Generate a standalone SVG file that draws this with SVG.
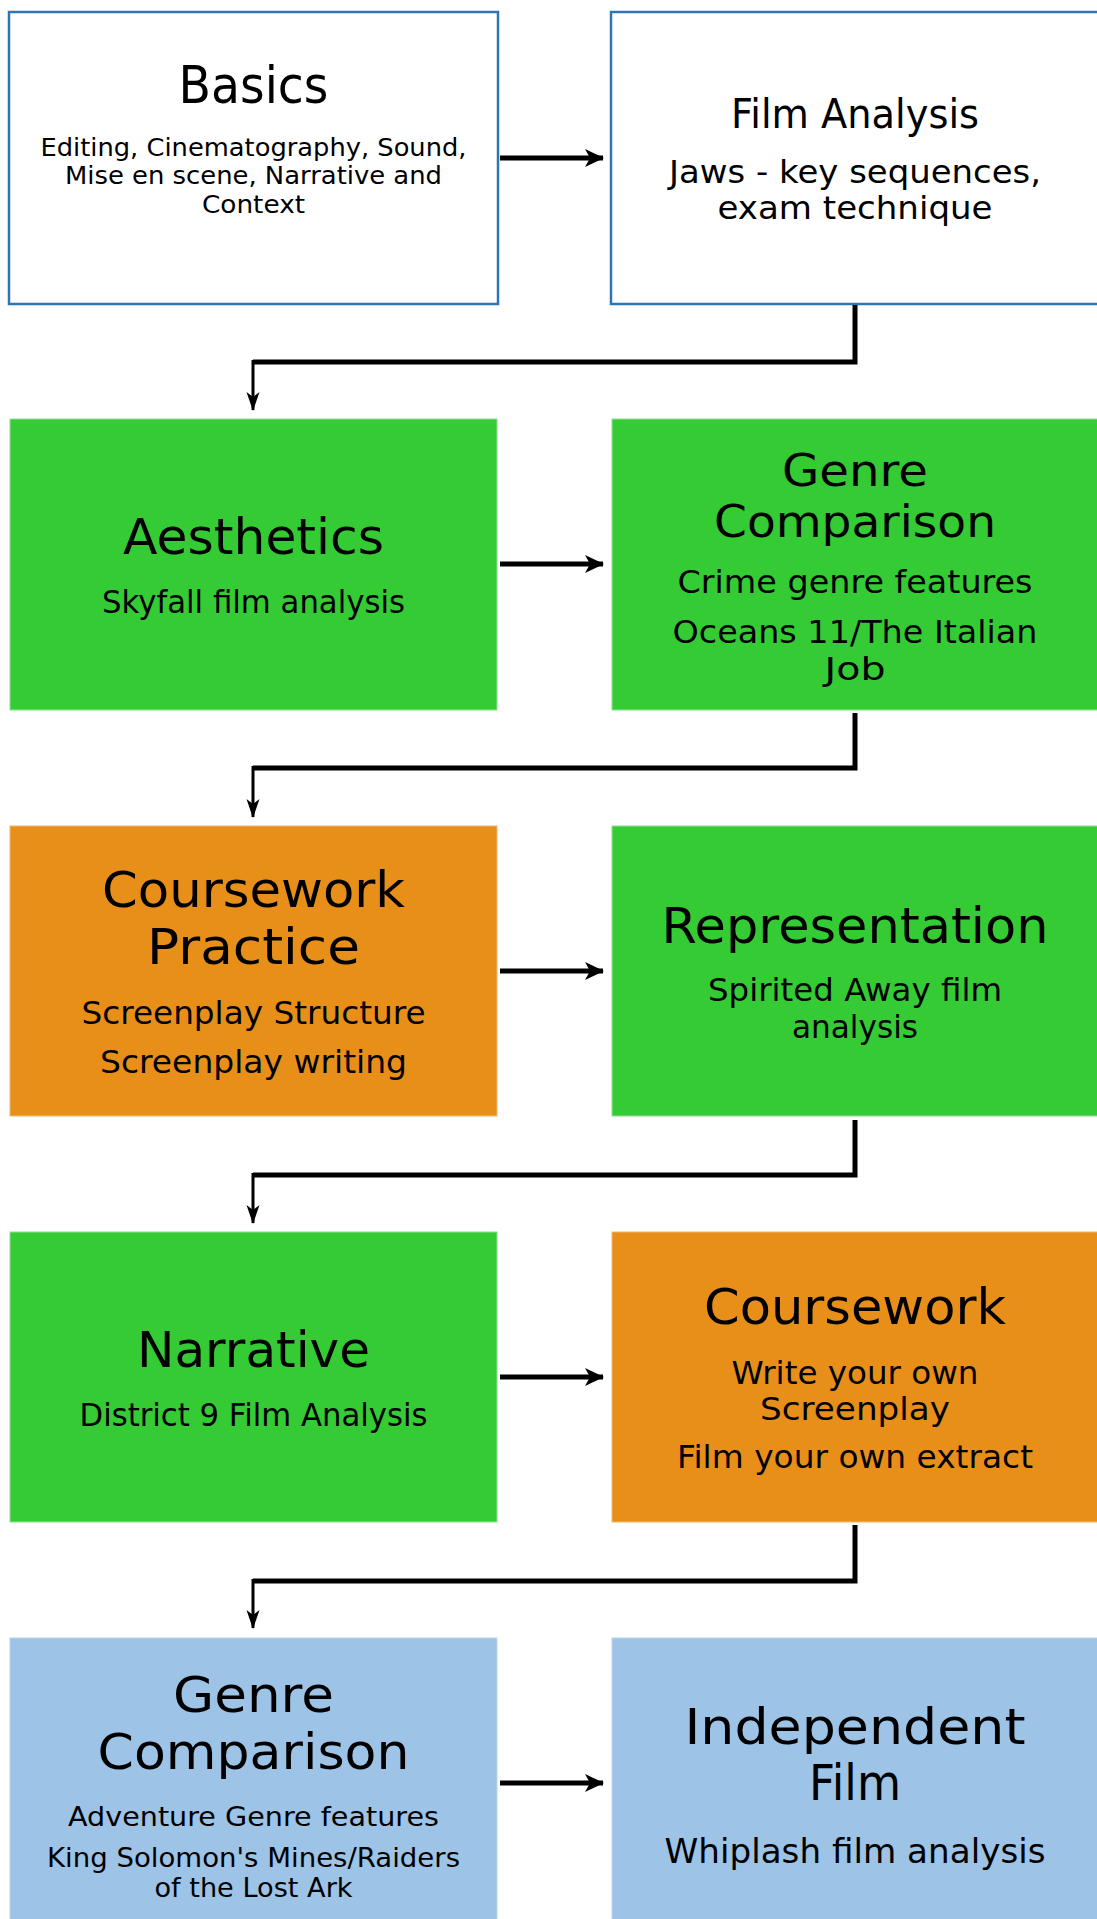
<svg xmlns="http://www.w3.org/2000/svg" width="1097" height="1919" viewBox="0 0 1097 1919">
<style>
  text { font-family: "DejaVu Sans", "Liberation Sans", sans-serif; fill: #000; text-anchor: middle; }
  .white { fill: #ffffff; stroke: #2E75B6; stroke-width: 2.5; }
  .green { fill: #34CB34; stroke: #8FE08F; stroke-width: 1; }
  .orange { fill: #E88F1A; stroke: #F0B870; stroke-width: 1; }
  .blue { fill: #9DC3E6; stroke: #B8D4EE; stroke-width: 1; }
  .conn { fill: none; stroke: #000; stroke-width: 5; stroke-linejoin: miter; }
  .drop { fill: none; stroke: #000; stroke-width: 3; }
  .harrow { fill: none; stroke: #000; stroke-width: 5; }
</style>
<defs>
  <marker id="ah" markerWidth="20" markerHeight="20" refX="18" refY="10" orient="auto" markerUnits="userSpaceOnUse">
    <path d="M0,1 L19,10 L0,19 L5,10 Z" fill="#000"/>
  </marker>
  <marker id="ahd" markerWidth="20" markerHeight="14" refX="18" refY="7" orient="auto" markerUnits="userSpaceOnUse">
    <path d="M0,0.5 L19,7 L0,13.5 L5,7 Z" fill="#000"/>
  </marker>
</defs>

<g id="basics">
  <rect class="white" x="9" y="12" width="489" height="292"/>
  <text x="253.5" y="103" font-size="52" textLength="150" lengthAdjust="spacingAndGlyphs">Basics</text>
  <text x="253.5" y="156" font-size="25" textLength="426" lengthAdjust="spacingAndGlyphs">Editing, Cinematography, Sound,</text>
  <text x="253.5" y="184" font-size="25" textLength="377" lengthAdjust="spacingAndGlyphs">Mise en scene, Narrative and</text>
  <text x="253.5" y="213" font-size="25" textLength="103" lengthAdjust="spacingAndGlyphs">Context</text>
</g>

<g id="film-analysis">
  <rect class="white" x="611" y="12" width="490" height="292"/>
  <text x="855" y="128" font-size="41" textLength="248" lengthAdjust="spacingAndGlyphs">Film Analysis</text>
  <text x="855" y="183" font-size="32" textLength="372" lengthAdjust="spacingAndGlyphs">Jaws - key sequences,</text>
  <text x="855" y="219" font-size="32" textLength="275" lengthAdjust="spacingAndGlyphs">exam technique</text>
</g>

<g id="aesthetics">
  <rect class="green" x="10" y="419" width="487" height="291"/>
  <text x="253.5" y="554" font-size="50" textLength="261" lengthAdjust="spacingAndGlyphs">Aesthetics</text>
  <text x="253.5" y="613" font-size="32" textLength="303" lengthAdjust="spacingAndGlyphs">Skyfall film analysis</text>
</g>

<g id="genre-comparison-crime">
  <rect class="green" x="612" y="419" width="490" height="291"/>
  <text x="855" y="486" font-size="45" textLength="146" lengthAdjust="spacingAndGlyphs">Genre</text>
  <text x="855" y="537" font-size="45" textLength="282" lengthAdjust="spacingAndGlyphs">Comparison</text>
  <text x="855" y="593" font-size="32" textLength="355" lengthAdjust="spacingAndGlyphs">Crime genre features</text>
  <text x="855" y="643" font-size="32" textLength="365" lengthAdjust="spacingAndGlyphs">Oceans 11/The Italian</text>
  <text x="855" y="680" font-size="32" textLength="61" lengthAdjust="spacingAndGlyphs">Job</text>
</g>

<g id="coursework-practice">
  <rect class="orange" x="10" y="826" width="487" height="290"/>
  <text x="253.5" y="907" font-size="50" textLength="303" lengthAdjust="spacingAndGlyphs">Coursework</text>
  <text x="253.5" y="964" font-size="50" textLength="213" lengthAdjust="spacingAndGlyphs">Practice</text>
  <text x="253.5" y="1024" font-size="32" textLength="344" lengthAdjust="spacingAndGlyphs">Screenplay Structure</text>
  <text x="253.5" y="1073" font-size="32" textLength="307" lengthAdjust="spacingAndGlyphs">Screenplay writing</text>
</g>

<g id="representation">
  <rect class="green" x="612" y="826" width="490" height="290"/>
  <text x="855" y="943" font-size="50" textLength="387" lengthAdjust="spacingAndGlyphs">Representation</text>
  <text x="855" y="1001" font-size="32" textLength="294" lengthAdjust="spacingAndGlyphs">Spirited Away film</text>
  <text x="855" y="1038" font-size="32" textLength="126" lengthAdjust="spacingAndGlyphs">analysis</text>
</g>

<g id="narrative">
  <rect class="green" x="10" y="1232" width="487" height="290"/>
  <text x="253.5" y="1367" font-size="50" textLength="233" lengthAdjust="spacingAndGlyphs">Narrative</text>
  <text x="253.5" y="1426" font-size="32" textLength="348" lengthAdjust="spacingAndGlyphs">District 9 Film Analysis</text>
</g>

<g id="coursework">
  <rect class="orange" x="612" y="1232" width="490" height="290"/>
  <text x="855" y="1324" font-size="50" textLength="302" lengthAdjust="spacingAndGlyphs">Coursework</text>
  <text x="855" y="1384" font-size="32" textLength="247" lengthAdjust="spacingAndGlyphs">Write your own</text>
  <text x="855" y="1420" font-size="32" textLength="190" lengthAdjust="spacingAndGlyphs">Screenplay</text>
  <text x="855" y="1468" font-size="32" textLength="356" lengthAdjust="spacingAndGlyphs">Film your own extract</text>
</g>

<g id="genre-comparison-adventure">
  <rect class="blue" x="10" y="1638" width="487" height="300"/>
  <text x="253.5" y="1712" font-size="50" textLength="161" lengthAdjust="spacingAndGlyphs">Genre</text>
  <text x="253.5" y="1769" font-size="50" textLength="312" lengthAdjust="spacingAndGlyphs">Comparison</text>
  <text x="253.5" y="1826" font-size="27" textLength="371" lengthAdjust="spacingAndGlyphs">Adventure Genre features</text>
  <text x="253.5" y="1867" font-size="27" textLength="413" lengthAdjust="spacingAndGlyphs">King Solomon's Mines/Raiders</text>
  <text x="253.5" y="1897" font-size="27" textLength="198" lengthAdjust="spacingAndGlyphs">of the Lost Ark</text>
</g>

<g id="independent-film">
  <rect class="blue" x="612" y="1638" width="490" height="300"/>
  <text x="855" y="1744" font-size="50" textLength="341" lengthAdjust="spacingAndGlyphs">Independent</text>
  <text x="855" y="1800" font-size="50" textLength="92" lengthAdjust="spacingAndGlyphs">Film</text>
  <text x="855" y="1863" font-size="34" textLength="381" lengthAdjust="spacingAndGlyphs">Whiplash film analysis</text>
</g>

<g id="connectors">
  <line class="harrow" x1="500" y1="158" x2="603" y2="158" marker-end="url(#ah)"/>
  <line class="harrow" x1="500" y1="564" x2="603" y2="564" marker-end="url(#ah)"/>
  <line class="harrow" x1="500" y1="971" x2="603" y2="971" marker-end="url(#ah)"/>
  <line class="harrow" x1="500" y1="1377" x2="603" y2="1377" marker-end="url(#ah)"/>
  <line class="harrow" x1="500" y1="1783" x2="603" y2="1783" marker-end="url(#ah)"/>

  <polyline class="conn" points="855,305 855,362 253,362"/>
  <line class="drop" x1="253" y1="360" x2="253" y2="410" marker-end="url(#ahd)"/>

  <polyline class="conn" points="855,713 855,768 253,768"/>
  <line class="drop" x1="253" y1="766" x2="253" y2="817" marker-end="url(#ahd)"/>

  <polyline class="conn" points="855,1120 855,1175 253,1175"/>
  <line class="drop" x1="253" y1="1173" x2="253" y2="1223" marker-end="url(#ahd)"/>

  <polyline class="conn" points="855,1525 855,1581 253,1581"/>
  <line class="drop" x1="253" y1="1579" x2="253" y2="1628" marker-end="url(#ahd)"/>
</g>
</svg>
